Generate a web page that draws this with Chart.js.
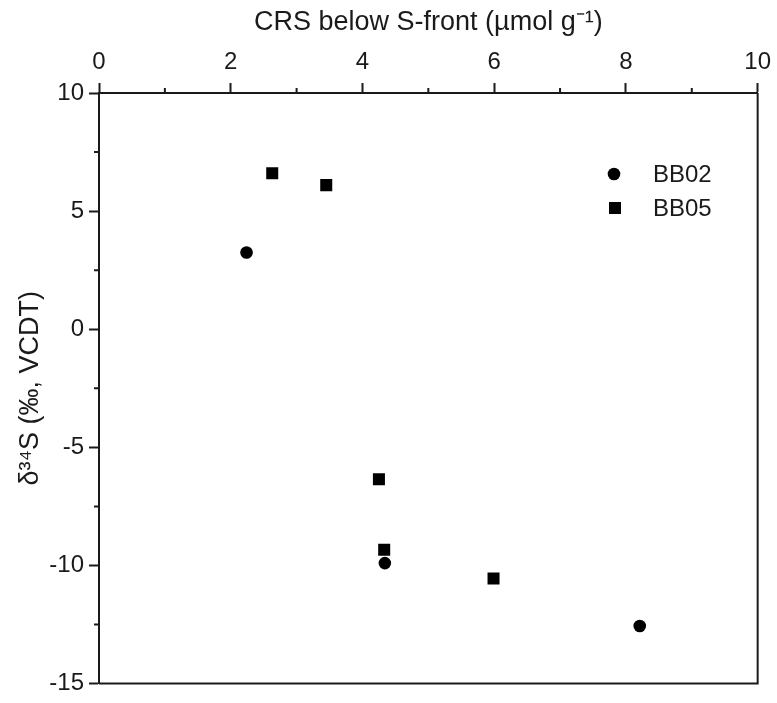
<!DOCTYPE html>
<html><head><meta charset="utf-8">
<script src="https://cdn.jsdelivr.net/npm/chart.js@4"></script>
<style>html,body{margin:0;padding:0;background:#fff}</style>
</head><body>
<canvas id="c" width="777" height="703" style="width:777px;height:703px;display:block"></canvas>
<script>
// ---- data ----
const seriesNames = ['BB02', 'BB05'];
const bb02X = [2.24, 4.34, 8.21];
const bb02Y = [3.25, -9.9, -12.56];
const bb05X = [2.63, 3.45, 4.25, 4.33, 5.99];
const bb05Y = [6.6, 6.1, -6.35, -9.33, -10.55];
const xTicks = [0, 2, 4, 6, 8, 10];
const yTicks = [-15, -10, -5, 0, 5, 10];
const xMinor = [1, 3, 5, 7, 9];
const yMinor = [-12.5, -7.5, -2.5, 2.5, 7.5];
const xTitle = 'CRS below S-front (µmol g⁻¹)';
const yTitle = 'δ³⁴S (‰, VCDT)';

const FONT = "'Liberation Sans', Arial, sans-serif";
const INK = '#1a1a1a';
const pts = (xs, ys) => xs.map((v, i) => ({x: v, y: ys[i]}));

const framePlugin = {
  id: 'frame',
  afterDraw(chart) {
    const {ctx, chartArea: a, scales: {x, y}} = chart;
    ctx.save();
    ctx.strokeStyle = INK;
    ctx.lineWidth = 2;
    ctx.beginPath();
    ctx.moveTo(a.left, a.bottom);
    ctx.lineTo(a.right, a.bottom);
    ctx.lineTo(a.right, a.top);
    xMinor.forEach(v => { const p = x.getPixelForValue(v); ctx.moveTo(p, a.top); ctx.lineTo(p, a.top - 5); });
    yMinor.forEach(v => { const p = y.getPixelForValue(v); ctx.moveTo(a.left, p); ctx.lineTo(a.left - 5, p); });
    ctx.stroke();
    // legend
    const lx = 614, ly = 174, gap = 34, tx = 653;
    chart.data.datasets.forEach((ds, i) => {
      const cy = ly + i * gap;
      ctx.fillStyle = ds.backgroundColor;
      ctx.beginPath();
      if (ds.pointStyle === 'rect') {
        const h = ds.pointRadius * Math.SQRT1_2;
        ctx.rect(lx + 1 - h, cy - h, 2 * h, 2 * h);
      } else {
        ctx.arc(lx, cy, ds.pointRadius, 0, Math.PI * 2);
      }
      ctx.fill();
      ctx.fillStyle = INK;
      ctx.font = `24px ${FONT}`;
      ctx.textBaseline = 'middle';
      ctx.textAlign = 'left';
      ctx.fillText(ds.label, tx, cy + 1);
    });
    ctx.restore();
  }
};

new Chart(document.getElementById('c'), {
  type: 'scatter',
  data: {
    datasets: [
      {label: seriesNames[0], data: pts(bb02X, bb02Y), pointStyle: 'circle', pointRadius: 6.3, pointHoverRadius: 6.3, backgroundColor: '#000', borderWidth: 0},
      {label: seriesNames[1], data: pts(bb05X, bb05Y), pointStyle: 'rect', pointRadius: 8.5, pointHoverRadius: 8.5, backgroundColor: '#000', borderWidth: 0}
    ]
  },
  options: {
    responsive: false,
    animation: false,
    events: [],
    layout: {padding: {left: 0, right: 17, top: 0, bottom: 15}},
    plugins: {legend: {display: false}, tooltip: {enabled: false}},
    scales: {
      x: {
        type: 'linear', position: 'top', min: 0, max: 10,
        afterBuildTicks: s => { s.ticks = xTicks.map(v => ({value: v})); },
        afterFit: s => { s.height = 93; },
        grid: {drawOnChartArea: false, drawTicks: true, tickLength: 10, tickColor: INK, tickWidth: 2},
        border: {display: true, color: INK, width: 2},
        ticks: {color: INK, font: {family: FONT, size: 24}, padding: 6, maxRotation: 0},
        title: {display: true, text: xTitle, color: INK, font: {family: FONT, size: 27}, padding: {top: 6, bottom: 0}}
      },
      y: {
        type: 'linear', position: 'left', min: -15, max: 10,
        afterBuildTicks: s => { s.ticks = yTicks.map(v => ({value: v})); },
        afterFit: s => { s.width = 99; },
        grid: {drawOnChartArea: false, drawTicks: true, tickLength: 10, tickColor: INK, tickWidth: 2},
        border: {display: true, color: INK, width: 2},
        ticks: {color: INK, font: {family: FONT, size: 24}, padding: 5},
        title: {display: true, text: yTitle, color: INK, font: {family: FONT, size: 27}, padding: {top: 14, bottom: 0}}
      }
    }
  },
  plugins: [framePlugin]
});
</script>
</body></html>
